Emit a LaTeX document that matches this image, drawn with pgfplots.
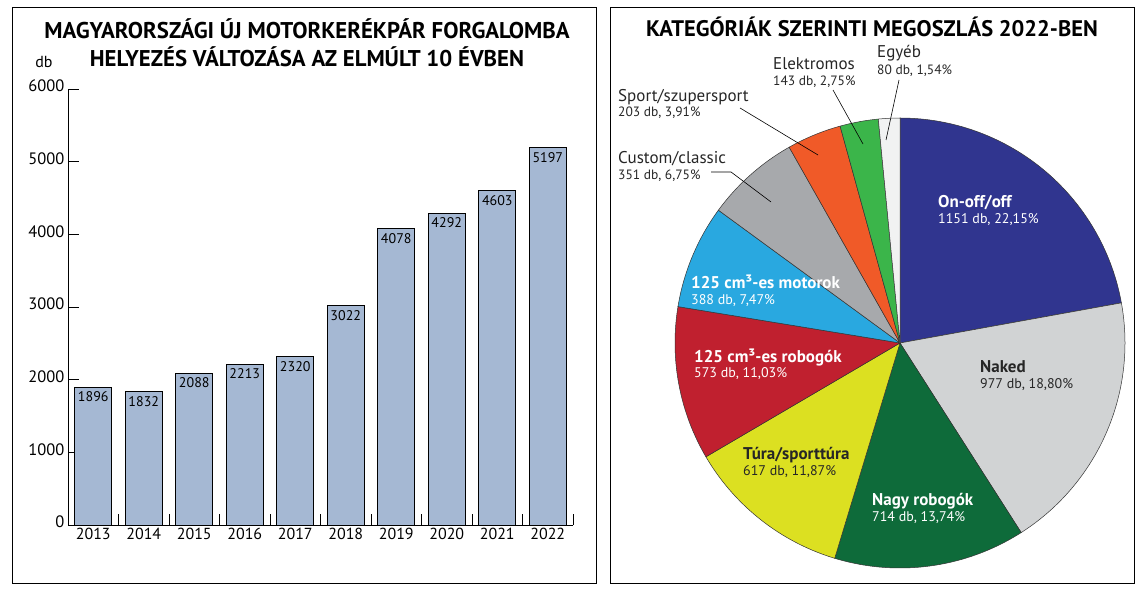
\documentclass[border=0pt]{standalone}
\usepackage{pgfplots}
\pgfplotsset{compat=1.18}
\usepackage{fontspec}
\setmainfont{PT Sans}
\definecolor{barblue}{HTML}{A5B8D3}
\definecolor{cOn}{HTML}{30358F}
\definecolor{cNaked}{HTML}{D1D3D4}
\definecolor{cNagy}{HTML}{0E6B3A}
\definecolor{cTura}{HTML}{DCE021}
\definecolor{cRob}{HTML}{C0202F}
\definecolor{cMot}{HTML}{29A8E0}
\definecolor{cCust}{HTML}{A7A9AC}
\definecolor{cSport}{HTML}{F05A28}
\definecolor{cElek}{HTML}{3BB54A}
\definecolor{cEgy}{HTML}{F1F2F2}
\newcommand{\fs}[1]{\fontsize{#1}{#1}\selectfont}
\begin{document}
\begin{tikzpicture}[x=1pt,y=1pt]
\path[use as bounding box] (0,0) rectangle (1148,592);
\draw[line width=1pt] (12,9) rectangle (596,584);
\draw[line width=1pt] (610,9) rectangle (1134,584);
% titles
\node[anchor=base,inner sep=0] at (307,553) {\fs{22.8}\bfseries MAGYARORSZÁGI ÚJ MOTORKERÉKPÁR FORGALOMBA};
\node[anchor=base,inner sep=0] at (307,525) {\fs{22.8}\bfseries HELYEZÉS VÁLTOZÁSA AZ ELMÚLT 10 ÉVBEN};
\node[anchor=base,inner sep=0] at (44,524) {\fs{16}db};
\node[anchor=base,inner sep=0] at (872,555) {\fs{22.5}\bfseries KATEGÓRIÁK SZERINTI MEGOSZLÁS 2022-BEN};
% bar chart
\begin{scope}[shift={(68pt,67pt)}]
\begin{axis}[at={(0pt,0pt)}, anchor=south west, scale only axis,
  width=505pt, height=436pt,
  xmin=-0.5, xmax=9.5, ymin=0, ymax=6000,
  axis line style={draw=none},
  xtick pos=bottom, ytick pos=left,
  /pgf/number format/assume math mode=true,
  /pgf/number format/1000 sep={},
  tick align=inside, major tick length=11pt,
  tick style={line width=0.8pt, black},
  ytick={0,1000,...,6000},
  yticklabel style={font=\fs{16.5}, yshift=3pt},
  xtick={0.5,1.5,...,9.5},
  xticklabels={2013,2014,2015,2016,2017,2018,2019,2020,2021,2022},
  xticklabel style={font=\fs{16}, xshift=-25.25pt},
  clip=false,
]
\addplot[ybar, bar width=0.73, fill=barblue, draw=black, line width=0.8pt,
  nodes near coords, nodes near coords style={anchor=north, font=\fs{14}, yshift=-1pt}]
  coordinates {(0,1896) (1,1832) (2,2088) (3,2213) (4,2320) (5,3022) (6,4078) (7,4292) (8,4603) (9,5197)};
\draw[line width=0.8pt] (axis cs:-0.5,6000) -- (axis cs:-0.5,0) -- (axis cs:9.5,0);
\end{axis}
\end{scope}
% pie chart
\begin{axis}[at={(675,24)}, anchor=south west, scale only axis,
  width=450pt, height=450pt, xmin=-225, xmax=225, ymin=-225, ymax=225,
  hide axis, clip=false]
\pgfplotsset{every axis plot/.append style={draw=black!80, line width=0.5pt, samples=80, variable=\t, mark=none}}
\addplot[fill=cOn, domain=0:1151] ({225*sin(\t*360/5197)},{225*cos(\t*360/5197)}) -- (axis cs:0,0) -- cycle;
\addplot[fill=cNaked, domain=1151:2128] ({225*sin(\t*360/5197)},{225*cos(\t*360/5197)}) -- (axis cs:0,0) -- cycle;
\addplot[fill=cNagy, domain=2128:2842] ({225*sin(\t*360/5197)},{225*cos(\t*360/5197)}) -- (axis cs:0,0) -- cycle;
\addplot[fill=cTura, domain=2842:3459] ({225*sin(\t*360/5197)},{225*cos(\t*360/5197)}) -- (axis cs:0,0) -- cycle;
\addplot[fill=cRob, domain=3459:4032] ({225*sin(\t*360/5197)},{225*cos(\t*360/5197)}) -- (axis cs:0,0) -- cycle;
\addplot[fill=cMot, domain=4032:4420] ({225*sin(\t*360/5197)},{225*cos(\t*360/5197)}) -- (axis cs:0,0) -- cycle;
\addplot[fill=cCust, domain=4420:4771] ({225*sin(\t*360/5197)},{225*cos(\t*360/5197)}) -- (axis cs:0,0) -- cycle;
\addplot[fill=cSport, domain=4771:4974] ({225*sin(\t*360/5197)},{225*cos(\t*360/5197)}) -- (axis cs:0,0) -- cycle;
\addplot[fill=cElek, domain=4974:5117] ({225*sin(\t*360/5197)},{225*cos(\t*360/5197)}) -- (axis cs:0,0) -- cycle;
\addplot[fill=cEgy, domain=5117:5197] ({225*sin(\t*360/5197)},{225*cos(\t*360/5197)}) -- (axis cs:0,0) -- cycle;
\end{axis}
% pie labels
\begin{scope}[every node/.style={anchor=base west, inner sep=0}]
\node[white] at (938,384) {\fs{17}\bfseries On-off/off};
\node[white] at (938,368) {\fs{14}1151 db, 22,15\%};
\node[black!85] at (980,219) {\fs{17}\bfseries Naked};
\node[black!85] at (980,203) {\fs{14}977 db, 18,80\%};
\node[white] at (872,87) {\fs{17}\bfseries Nagy robogók};
\node[white] at (872,71) {\fs{14}714 db, 13,74\%};
\node[black!85] at (743,133) {\fs{17}\bfseries Túra/sporttúra};
\node[black!85] at (743,117) {\fs{14}617 db, 11,87\%};
\node[white] at (694,229) {\fs{17}\bfseries 125 cm³-es robogók};
\node[white] at (694,214) {\fs{14}573 db, 11,03\%};
\node[white] at (691,303) {\fs{17}\bfseries 125 cm³-es motorok};
\node[white] at (691,287) {\fs{14}388 db, 7,47\%};
\node[black!85] at (618,428) {\fs{17}Custom/classic};
\node[black!85] at (618,412) {\fs{13.5}351 db, 6,75\%};
\node[black!85] at (618,490) {\fs{17}Sport/szupersport};
\node[black!85] at (618,475) {\fs{13.5}203 db, 3,91\%};
\node[black!85] at (773,522) {\fs{17}Elektromos};
\node[black!85] at (773,506) {\fs{13.5}143 db, 2,75\%};
\node[black!85] at (877,534) {\fs{17}Egyéb};
\node[black!85] at (877,517) {\fs{13.5}80 db, 1,54\%};
\end{scope}
\draw[line width=0.6pt] (711,420) -- (731,420) -- (771,390);
\draw[line width=0.6pt] (740,484) -- (818,437);
\draw[line width=0.6pt] (833,502) -- (863,448);
\draw[line width=0.6pt] (899,512) -- (886,452);
\end{tikzpicture}
\end{document}
